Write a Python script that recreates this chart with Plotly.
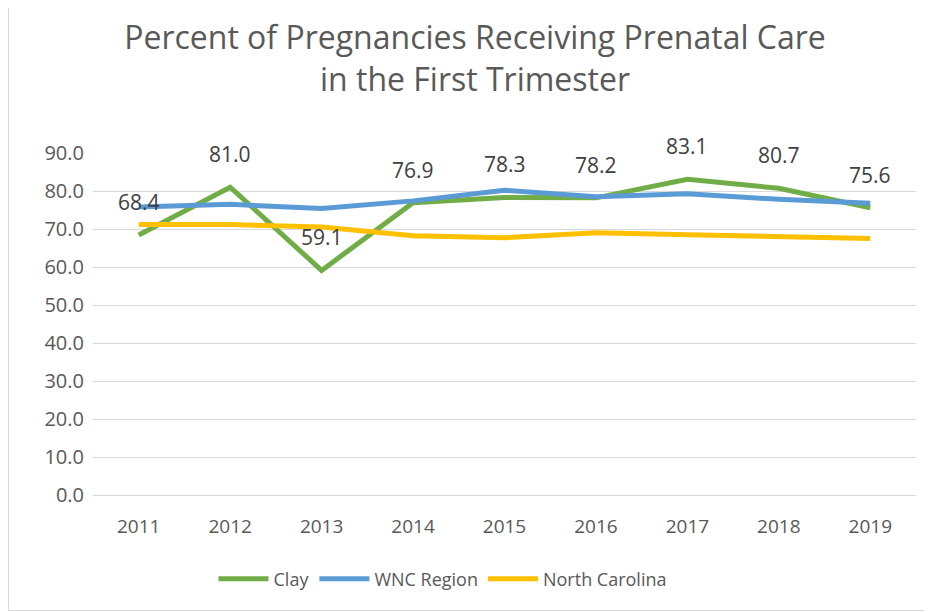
import plotly.graph_objects as go

years = [2011, 2012, 2013, 2014, 2015, 2016, 2017, 2018, 2019]
clay = [68.4, 81.0, 59.1, 76.9, 78.3, 78.2, 83.1, 80.7, 75.6]
wnc = [75.8, 76.5, 75.4, 77.4, 80.2, 78.5, 79.3, 77.8, 76.8]
nc = [71.2, 71.2, 70.5, 68.2, 67.7, 69.0, 68.5, 68.0, 67.5]
y_ticks = [0, 10, 20, 30, 40, 50, 60, 70, 80, 90]

FONT = "Open Sans, Liberation Sans, sans-serif"
# page body has an 8px default margin, so figure is 8px smaller
W, H = 924, 604
ml, mr, mt, mb = 85, 16, 145, 117

fig = go.Figure()
fig.add_trace(go.Scatter(x=years, y=clay, name="Clay", mode="lines",
                         line=dict(color="#70AD47", width=5)))
fig.add_trace(go.Scatter(x=years, y=wnc, name="WNC Region", mode="lines",
                         line=dict(color="#5B9BD5", width=5)))
fig.add_trace(go.Scatter(x=years, y=nc, name="North Carolina", mode="lines",
                         line=dict(color="#FFC000", width=5)))

for x, v in zip(years, clay):
    fig.add_annotation(x=x, y=v, text=f"{v:.1f}", showarrow=False,
                       yshift=33, font=dict(size=21, color="#404040", family=FONT))

pw = W - ml - mr
ph = H - mt - mb
fig.add_shape(type="rect", xref="paper", yref="paper",
              x0=(-8.5 - ml + 9) / pw, x1=(W - ml - 1.5) / pw,
              y0=(-mb + 1.5) / ph, y1=(H - mb + 8) / ph,
              line=dict(color="#D9D9D9", width=1), fillcolor="rgba(0,0,0,0)")

fig.update_layout(
    width=W, height=H,
    margin=dict(l=ml, r=mr, t=mt, b=mb),
    paper_bgcolor="white", plot_bgcolor="white",
    font=dict(family=FONT, color="#595959"),
    title=dict(text="Percent of Pregnancies Receiving Prenatal Care<br>in the First Trimester",
               x=467 / W, xanchor="center", xref="container", y=1 - 41 / H, yanchor="middle",
               font=dict(size=32, color="#595959", family=FONT)),
    xaxis=dict(range=[2010.5, 2019.5], tickmode="array", tickvals=years,
               ticktext=[str(y) for y in years], showgrid=False, zeroline=False,
               showline=False, ticks="", ticklabelstandoff=18,
               tickfont=dict(size=19, color="#595959")),
    yaxis=dict(range=[0, 90], tickmode="array", tickvals=y_ticks,
               ticktext=[f"{t:.1f}" for t in y_ticks], showgrid=True,
               gridcolor="#D9D9D9", gridwidth=1, zeroline=True, zerolinecolor="#D9D9D9",
               zerolinewidth=1, showline=False, ticks="", ticklabelstandoff=8,
               tickfont=dict(size=20, color="#595959")),
    showlegend=True,
    legend=dict(orientation="h", x=(435 - ml) / pw, xanchor="center", y=-84 / ph,
                yanchor="middle",
                font=dict(size=18, color="#595959"), itemwidth=50,
                traceorder="normal", tracegroupgap=0),
)

fig.write_html("out.html")
